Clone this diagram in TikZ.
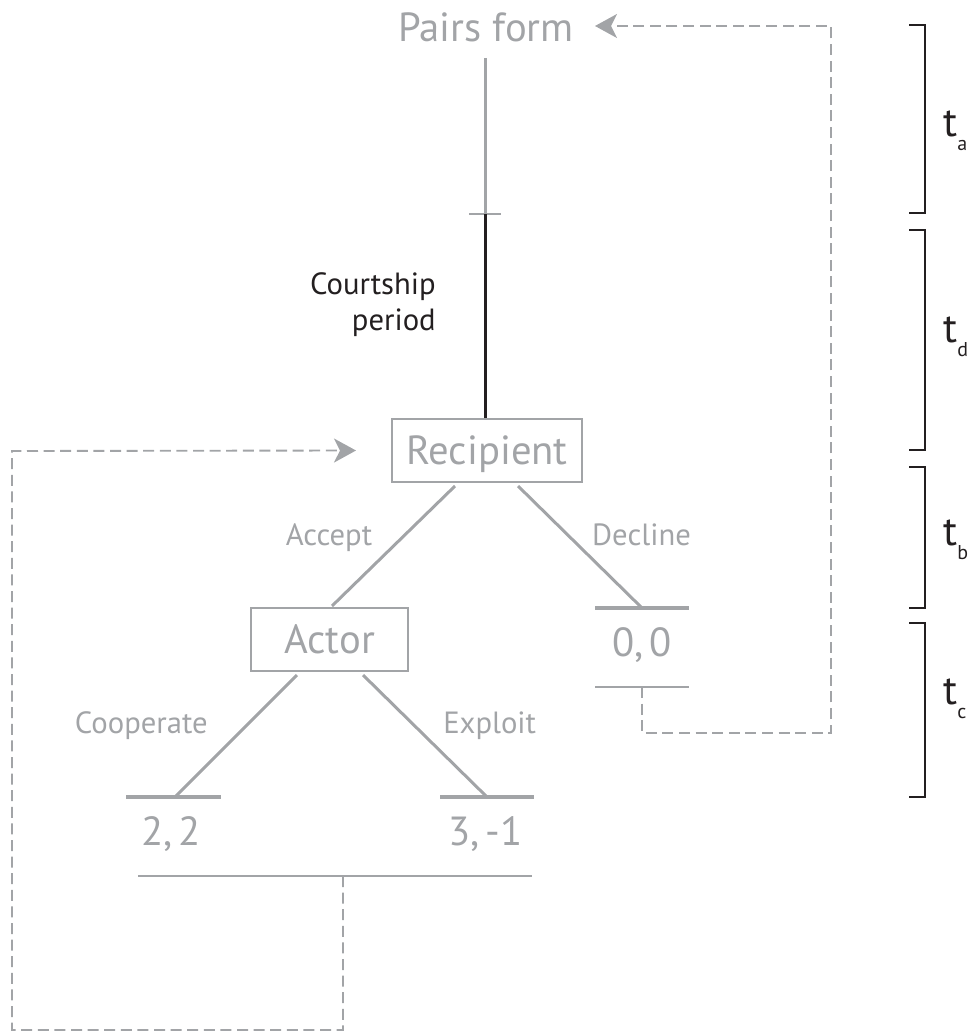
\documentclass[tikz,border=0pt]{standalone}
\usepackage{fontspec}
\setmainfont{PT Sans}
\usetikzlibrary{arrows.meta,calc}
\definecolor{gr}{HTML}{A2A4A7}
\definecolor{blk}{HTML}{231F20}
\newcommand{\bigfnt}{\fontsize{30.5}{36}\selectfont}
\newcommand{\labfnt}{\fontsize{23}{28}\selectfont}
\newcommand{\tfnt}{\fontsize{31}{38}\selectfont}
\newcommand{\subfnt}{\fontsize{15}{18}\selectfont}
\newcommand{\csp}{\hspace{0.14em}}
\begin{document}
\begin{tikzpicture}[x=0.75pt,y=-0.75pt,
  big/.style={font=\bigfnt, text=gr, inner sep=0pt},
  lab/.style={font=\labfnt, text=gr, inner sep=0pt},
  blab/.style={font=\labfnt, text=blk, inner sep=0pt},
  box/.style={draw=gr, line width=1.5pt, font=\bigfnt, text=gr, inner sep=0pt,
    minimum height=47.25pt, text height=21.5pt, text depth=0pt},
  tree/.style={draw=gr, line width=2.25pt},
  bar/.style={draw=gr, line width=2.5pt},
  thinbar/.style={draw=gr, line width=1.5pt},
  loop/.style={draw=gr, line width=1.4pt, dash pattern=on 8.25pt off 4.2pt},
  tip/.style={-{Stealth[length=16.5pt,width=18pt,inset=4.5pt]}},
  brk/.style={draw=blk, line width=1.1pt},
  tlab/.style={text=blk, inner sep=0pt, anchor=base west},
]
\useasboundingbox (0,0) rectangle (976,1034);

% top
\node[big, anchor=base] (pairs) at (486,42) {Pairs form};
\coordinate (top) at (485,58);
\coordinate (tick) at (485,214);
\draw[tree] (top) -- (tick);
\draw[draw=gr, line width=2pt] ($(tick)+(-16,0)$) -- ($(tick)+(16,0)$);

\node[blab, anchor=base east] (cp1) at (436,294) {Courtship};
\node[blab, anchor=base east] (cp2) at (436,330) {period};

% recipient
\node[box, minimum width=142.5pt] (rec) at (487,450.5) {Recipient};
\draw[draw=blk, line width=2.25pt] (tick) -- (tick |- rec.north);

% actor
\node[box, minimum width=117.75pt] (act) at (329.5,639.5) {Actor};

% accept / decline
\coordinate (d0) at (642,608);
\coordinate (d1) at (642,687);
\draw[tree] ($(rec.south)+(-32,3)$) -- ($(act.north)+(2.5,-1)$);
\draw[tree] ($(rec.south)+(31,3)$) -- (d0);
\node[lab, anchor=base] (acc) at (329,545) {Accept};
\node[lab, anchor=base] (dec) at (641.5,545) {Decline};
\draw[bar] ($(d0)+(-47,0)$) -- ($(d0)+(47,0)$);
\node[big, anchor=base] (p00) at (642,656) {0,\csp0};
\draw[thinbar] ($(d1)+(-47,0)$) -- ($(d1)+(47,0)$);

% cooperate / exploit
\coordinate (c0) at (175,797);
\coordinate (e0) at (487,797);
\draw[tree] ($(act.south)+(-32.5,3)$) -- (c0);
\draw[tree] ($(act.south)+(33.5,3)$) -- (e0);
\node[lab, anchor=base east] (coop) at (208,733) {Cooperate};
\node[lab, anchor=base west] (expl) at (443,733) {Exploit};
\draw[bar] ($(c0)+(-49,0)$) -- ($(c0)+(46,0)$);
\draw[bar] ($(e0)+(-47,0)$) -- ($(e0)+(47,0)$);
\node[big, anchor=base] (p22) at (171,845) {2,\csp2};
\node[big, anchor=base] (p31) at (485.5,845) {3,\csp-1};
\coordinate (m) at (343,876);
\draw[thinbar] (138,876) -- (532,876);

% loops
\coordinate (pin) at (595,26);
\draw[loop, tip] (d1) -- (642,733) -- (831,733) -- (831,26) -- (pin);
\draw[loop, tip] (m) -- (343,1030) -- (12,1030) -- (12,451) -- ($(rec.west)+(-35,0)$);

% brackets
\draw[brk] (909,25) -- (925,25) -- (925,213) -- (909,213);
\draw[brk] (909,230) -- (925,230) -- (925,450) -- (909,450);
\draw[brk] (909,467) -- (925,467) -- (925,608) -- (909,608);
\draw[brk] (909,623) -- (925,623) -- (925,797) -- (909,797);
\node[tlab] (ta) at (943,137) {\tfnt t\subfnt\raisebox{-10.5pt}{a}};
\node[tlab] (td) at (943,342) {\tfnt t\subfnt\raisebox{-10.5pt}{d}};
\node[tlab] (tb) at (943,545) {\tfnt t\subfnt\raisebox{-10.5pt}{b}};
\node[tlab] (tc) at (943,704) {\tfnt t\subfnt\raisebox{-10.5pt}{c}};
\end{tikzpicture}
\end{document}
